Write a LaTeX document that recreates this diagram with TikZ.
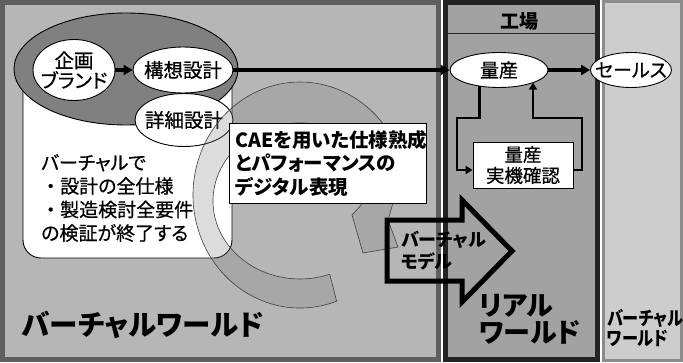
\documentclass[tikz,border=0pt]{standalone}
\usepackage{fontspec}
\setmainfont{Noto Sans CJK JP}[RawFeature=+palt, UprightFeatures={FakeBold=0.6}]
\usetikzlibrary{arrows.meta,shapes.geometric}
\definecolor{panelL}{RGB}{182,182,182}
\definecolor{panelLb}{RGB}{95,95,95}
\definecolor{panelM}{RGB}{162,162,162}
\definecolor{panelMb}{RGB}{35,35,35}
\definecolor{panelR}{RGB}{205,205,205}
\definecolor{panelRb}{RGB}{140,140,140}
\definecolor{ellDark}{RGB}{128,128,128}
\newcommand{\fwdot}{\makebox[19pt][c]{・}}
\begin{document}
\begin{tikzpicture}[x=1pt,y=1pt,
  ell/.style={draw=black, line width=0.9pt, fill=white, ellipse, inner sep=0pt},
  box/.style={draw=black, line width=0.9pt, fill=white, rectangle, inner sep=0pt},
  flow/.style={line width=3.2pt, -{Triangle[length=9pt,width=10pt]}},
  loopln/.style={line width=2.3pt, -{Triangle[length=7pt,width=8pt]}},
  txt/.style={font=\fontsize{19}{23.5}\selectfont, align=center, inner sep=0pt},
  bigtxt/.style={inner sep=0pt, align=left, anchor=west},
]
\path[fill=white] (0,0) rectangle (683,362);
\useasboundingbox (0,0) rectangle (683,362);
% panels
\draw[line width=5pt, draw=panelLb, fill=panelL] (2.5,2.5) rectangle (438.5,359.5);
\draw[line width=5pt, draw=panelMb, fill=panelM] (445.5,2.5) rectangle (597.5,359.5);
\draw[line width=3pt, draw=panelRb, fill=panelR] (603.5,1.5) rectangle (681.5,360.5);
\draw[line width=1pt, draw=panelMb] (448,328) -- (595,328);
\node[txt, font=\bfseries\fontsize{19}{20}\selectfont] (factory) at (519,341) {工場};

% virtual world contents
\node[box, rounded corners=18pt, minimum width=209, minimum height=198] (vbox) at (127.5,203) {};
\node[ell, fill=ellDark, minimum width=224, minimum height=112] (bigell) at (126,293) {};
\node[ell, minimum width=82, minimum height=61] (plan) at (74,292) {};
\node[txt, font=\fontsize{19.5}{20}\selectfont] at (plan) {企画\\ブランド};
\node[ell, minimum width=100, minimum height=46] (concept) at (183,292) {};
\node[txt, font=\fontsize{19.5}{20}\selectfont] at (concept) {構想設計};
\node[ell, minimum width=98, minimum height=53] (detail) at (184,242) {};
\node[txt, font=\fontsize{19.5}{20}\selectfont] at (detail) {詳細設計};
\node[txt, align=left, anchor=west] (vtext) at (41,164) {バーチャルで\\\fwdot 設計の全仕様\\\fwdot 製造検討全要件\\の検証が終了する};

% cycle ring
\path[draw=gray!50!black, line width=0.6pt, fill=gray, fill opacity=0.27]
  (336.6,60.8) arc[start angle=-70, end angle=-340, x radius=107, y radius=113]
  -- (393,159) -- (388,142) -- (398,115) -- (363,109) -- (352,147) -- (363,159)
  -- (381.75,187.7) arc[start angle=20, end angle=290, x radius=87, y radius=78] -- cycle;

\node[box, minimum width=197, minimum height=80] (cae) at (327.5,199) {};
\node[txt, font=\bfseries\fontsize{19.5}{23.5}\selectfont, align=left, anchor=west] at (235,199) {CAEを用いた仕様熟成\\とパフォーマンスの\\デジタル表現};

% real world contents
\node[ell, minimum width=98, minimum height=35] (mass) at (499,292) {};
\node[txt] at (mass) {量産};
\node[ell, minimum width=81, minimum height=35] (sales) at (631,292) {};
\node[txt] at (sales) {セールス};
\node[box, minimum width=100, minimum height=46] (confirm) at (523,197) {};
\node[txt, font=\fontsize{18.5}{21}\selectfont] at (confirm) {量産\\実機確認};

\draw[flow] (plan) -- (concept);
\draw[flow] (concept) -- (mass);
\draw[flow] (mass) -- (sales);

\coordinate (c1) at (457,244);
\coordinate (c2) at (457,192);
\coordinate (c3) at (582,192);
\coordinate (c4) at (582,244);
\coordinate (c5) at (533,244);
\draw[loopln] (mass.220) |- (c1) -- (c2) -- (c2 -| confirm.west);
\draw[loopln] (c3 -| confirm.east) -- (c3) -- (c4) -- (c5) -- (c5 |- mass.340);

% block arrow
\draw[line width=5pt, line join=miter] (387,142) -- (462,142) -- (462,162) -- (512,111) -- (462,60) -- (462,81) -- (387,81) -- cycle;
\node[bigtxt, font=\bfseries\fontsize{18}{22}\selectfont] (vmodel) at (401,111) {バーチャル\\モデル};

% titles
\node[bigtxt, font=\bfseries\fontsize{28.5}{30}\selectfont] (vworld) at (22,37) {バーチャルワールド};
\node[bigtxt, font=\bfseries\fontsize{27}{27}\selectfont] (rworld) at (479,43) {リアル\\ワールド};
\node[bigtxt, font=\bfseries\fontsize{19}{20}\selectfont] (vworld2) at (607,34.5) {\scalebox{0.85}[1]{バーチャル}\\\scalebox{0.85}[1]{ワールド}};
\end{tikzpicture}
\end{document}
